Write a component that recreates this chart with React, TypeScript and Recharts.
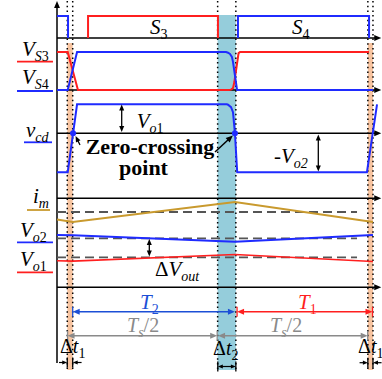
import React from 'react'
import { ComposedChart, Line, XAxis, YAxis, ReferenceLine, ReferenceArea, ReferenceDot } from 'recharts'

const RED = '#ff1f1f'
const BLUE = '#1f2bff'
const GOLD = '#c99a2e'
const GRAY = '#8a8a8a'
const TBLUE = '#1c4fd6'
const SERIF = "'Liberation Serif', 'Times New Roman', serif"

// time in units where Ts/2 = 10
const tAxis = -0.683
const dt1A = [0, 0.36]
const dt2 = [9.99, 11.2]
const dt1B = [19.97, 20.31]
const zeroCross = [0.385, 11.14]

// gate signals (1 = on)
const s3Wave = [
  { t: 1.38, v: 0 }, { t: 1.38, v: 1 }, { t: 10.01, v: 1 }, { t: 10.01, v: 0 },
]
const s4Wave = [
  { t: -0.68, v: 1 }, { t: 0.05, v: 1 }, { t: 0.05, v: 0 }, { t: 5, v: null },
  { t: 11.34, v: 0 }, { t: 11.34, v: 1 }, { t: 20.05, v: 1 }, { t: 20.05, v: 0 },
]
// switch voltages, normalised
const vs3Wave = [
  { t: -0.68, v: 1 }, { t: 0.03, v: 1 }, { t: 0.71, v: 0 }, { t: 10.75, v: 0 },
  { t: 10.88, v: 0.01 }, { t: 11.01, v: 0.05 }, { t: 11.1, v: 0.21 }, { t: 11.38, v: 0.97 },
  { t: 11.48, v: 1 }, { t: 20.05, v: 1 },
]
const vs4Wave = [
  { t: -0.68, v: 0 }, { t: 0.03, v: 0 }, { t: 0.65, v: 1 }, { t: 10.55, v: 1 },
  { t: 10.68, v: 0.98 }, { t: 10.81, v: 0.95 }, { t: 10.94, v: 0.87 }, { t: 11.01, v: 0.74 },
  { t: 11.28, v: 0 }, { t: 20.31, v: 0 },
]
// bridge voltage in units of Vo1
const vcdWave = [
  { t: -0.68, v: -1.34 }, { t: 0.03, v: -1.34 }, { t: 0.65, v: 1 }, { t: 10.6, v: 1 },
  { t: 10.68, v: 0.985 }, { t: 10.88, v: 0.9 }, { t: 11.01, v: 0.73 }, { t: 11.14, v: 0 },
  { t: 11.25, v: -1.0 }, { t: 11.29, v: -1.34 }, { t: 19.91, v: -1.34 }, { t: 20.58, v: 1 },
]
const imWave = [
  { t: -0.68, v: -0.75 }, { t: 0.36, v: -1 }, { t: 11.14, v: 1 }, { t: 20.31, v: -1 },
]
const vo2Ripple = [
  { t: -0.68, v: 0.8 }, { t: 0.36, v: 0.75 }, { t: 11.14, v: -0.85 }, { t: 20.31, v: 0.8 },
]
const vo1Ripple = [
  { t: -0.68, v: -0.85 }, { t: 0.36, v: -0.95 }, { t: 11.14, v: 0.7 }, { t: 20.31, v: -1.05 },
]

// row layout (y is measured downward)
const lane = (base: number, gain: number) => (d: { v: number | null }) =>
  d.v == null ? null : base - gain * d.v
const rows = { sw: 38, vs: 90, vcd: 133.3, im: 198.3, out: 287.3 }

type ArrowOpt = { color?: string; w?: number; head?: number; a?: boolean; b?: boolean; ta?: boolean; tb?: boolean; tick?: number }
const arrowShape = (o: ArrowOpt) => (p: any) => {
  const { x1, y1, x2, y2 } = p
  const c = o.color ?? '#000'
  const h = o.head ?? 7
  const hw = h * 0.42
  const len = Math.hypot(x2 - x1, y2 - y1) || 1
  const ux = (x2 - x1) / len
  const uy = (y2 - y1) / len
  const tri = (x: number, y: number, dx: number, dy: number) =>
    `${x},${y} ${x - dx * h - dy * hw},${y - dy * h + dx * hw} ${x - dx * h + dy * hw},${y - dy * h - dx * hw}`
  const tk = o.tick ?? 5
  const sx = o.a ? x1 + ux * h * 0.8 : x1
  const sy = o.a ? y1 + uy * h * 0.8 : y1
  const ex = o.b ? x2 - ux * h * 0.8 : x2
  const ey = o.b ? y2 - uy * h * 0.8 : y2
  return (
    <g>
      <line x1={sx} y1={sy} x2={ex} y2={ey} stroke={c} strokeWidth={o.w ?? 1.5} />
      {o.a && <polygon points={tri(x1, y1, -ux, -uy)} fill={c} />}
      {o.b && <polygon points={tri(x2, y2, ux, uy)} fill={c} />}
      {o.ta && <line x1={x1 - uy * tk} y1={y1 + ux * tk} x2={x1 + uy * tk} y2={y1 - ux * tk} stroke={c} strokeWidth={1.3} />}
      {o.tb && <line x1={x2 - uy * tk} y1={y2 + ux * tk} x2={x2 + uy * tk} y2={y2 - ux * tk} stroke={c} strokeWidth={1.3} />}
    </g>
  )
}

const seg = (key: string, t1: number, y1: number, t2: number, y2: number, o: ArrowOpt) => (
  <ReferenceLine key={key} segment={[{ x: t1, y: y1 }, { x: t2, y: y2 }]} ifOverflow="visible" shape={arrowShape(o)} />
)

const plain = (key: string, t1: number, t2: number, y: number, color: string, extra: any = {}) => (
  <ReferenceLine key={key} segment={[{ x: t1, y }, { x: t2, y }]} ifOverflow="visible" stroke={color} strokeWidth={1.8} {...extra} />
)

const note = (key: string, t: number, y: number, content: React.ReactNode, style: any = {}) => (
  <ReferenceDot key={key} x={t} y={y} r={0} ifOverflow="visible"
    shape={(p: any) => (
      <text x={p.cx} y={p.cy} fontFamily={SERIF} fontSize={21} fill="#000" {...style}>{content}</text>
    )} />
)

const it = (s: string) => <tspan fontStyle="italic">{s}</tspan>
const sub = (a: string, b = '', italicB = false) => (
  <tspan fontSize={14} dy={5}>
    <tspan fontStyle="italic">{a}</tspan>
    <tspan fontStyle={italicB ? 'italic' : 'normal'}>{b}</tspan>
  </tspan>
)

export default function App() {
  const dots = [dt1A[0], dt1A[1], dt2[0], dt2[1], dt1B[0], dt1B[1]]
  return (
    <div>
      <style>{'body{margin:0}'}</style>
      <ComposedChart width={382} height={379} margin={{ top: 0, right: 0, bottom: 0, left: 0 }}>
        <XAxis type="number" dataKey="t" domain={[-4.47, 20.91]} hide allowDataOverflow />
        <YAxis type="number" domain={[0, 379]} reversed hide allowDataOverflow />

        <ReferenceArea x1={dt1A[0]} x2={dt1A[1]} y1={43} y2={370} fill="#f7c4a0" fillOpacity={1} stroke="none" ifOverflow="visible" />
        <ReferenceArea x1={dt2[0]} x2={dt2[1]} y1={15} y2={370} fill="#95cddb" fillOpacity={1} stroke="none" ifOverflow="visible" />
        <ReferenceArea x1={dt1B[0]} x2={dt1B[1]} y1={43} y2={370} fill="#f7c4a0" fillOpacity={1} stroke="none" ifOverflow="visible" />

        {dots.map((t, i) => (
          <ReferenceLine key={'dot' + i} segment={[{ x: t, y: 1 }, { x: t, y: 372 }]} ifOverflow="visible"
            stroke="#000" strokeWidth={1.5} strokeDasharray="1.5 3.2" />
        ))}

        {seg('yaxis', tAxis, 363, tAxis, 1, { b: true, w: 1.5 })}
        {Object.entries(rows).map(([k, y]) => seg('ax' + k, tAxis, y, 20.86, y, { b: true, w: 1.5 }))}

        {plain('dim', tAxis, 19.25, 212, '#555', { strokeDasharray: '9 5' })}
        {plain('dvo2', tAxis, 19.25, 238.3, '#555', { strokeDasharray: '9 5' })}
        {plain('dvo1', tAxis, 19.25, 257.3, '#555', { strokeDasharray: '9 5' })}

        {plain('uvs3', -3.34, -0.95, 61.7, RED)}
        {plain('uvs4', -3.34, -0.95, 91, BLUE)}
        {plain('uvcd', -2.875, -1.015, 142.3, BLUE)}
        {plain('uim', -2.676, -1.148, 210, GOLD)}
        {plain('uvo2', -3.34, -0.95, 242.3, BLUE)}
        {plain('uvo1', -3.34, -0.95, 272.3, RED)}

        <Line data={s3Wave} dataKey={lane(38, 22)} type="linear" stroke={RED} strokeWidth={2} dot={false} activeDot={false} isAnimationActive={false} />
        <Line data={s4Wave} dataKey={lane(38, 22)} type="linear" stroke={BLUE} strokeWidth={2} dot={false} activeDot={false} isAnimationActive={false} />
        <Line data={vs3Wave} dataKey={lane(90, 38)} type="linear" stroke={RED} strokeWidth={2} dot={false} activeDot={false} isAnimationActive={false} />
        <Line data={vs4Wave} dataKey={lane(90, 38)} type="linear" stroke={BLUE} strokeWidth={2} dot={false} activeDot={false} isAnimationActive={false} />
        <Line data={vcdWave} dataKey={lane(133.3, 29)} type="linear" stroke={BLUE} strokeWidth={2} dot={false} activeDot={false} isAnimationActive={false} />
        <Line data={imWave} dataKey={lane(212, 10)} type="linear" stroke={GOLD} strokeWidth={1.8} dot={false} activeDot={false} isAnimationActive={false} />
        <Line data={vo2Ripple} dataKey={lane(238.3, 4)} type="linear" stroke={BLUE} strokeWidth={2} dot={false} activeDot={false} isAnimationActive={false} />
        <Line data={vo1Ripple} dataKey={lane(257.3, 4)} type="linear" stroke={RED} strokeWidth={1.6} dot={false} activeDot={false} isAnimationActive={false} />

        {zeroCross.map((t, i) => (
          <ReferenceDot key={'zc' + i} x={t} y={rows.vcd} r={3} fill={BLUE} stroke="none" ifOverflow="visible" />
        ))}

        {seg('aVo1', 3.616, 104.5, 3.616, 132, { a: true, b: true, head: 6, w: 1.3 })}
        {seg('aVo2', 16.678, 134.5, 16.678, 171.5, { a: true, b: true, head: 6, w: 1.3 })}
        {seg('aDv', 5.45, 239, 5.45, 256.5, { a: true, b: true, head: 6, w: 1.3 })}
        {seg('aZc1', 9.815, 152, 11.0, 135.5, { b: true, head: 7, w: 1.5 })}
        {seg('aZc0', 0.845, 145, 0.55, 136, { b: true, head: 6, w: 1.3 })}

        {seg('aT2', 0.36, 311.7, 11.14, 311.7, { color: TBLUE, a: true, b: true, ta: true, head: 7, w: 1.5 })}
        {seg('aT1', 11.28, 311.7, 20.28, 311.7, { color: RED, a: true, b: true, ta: true, tb: true, head: 7, w: 1.5 })}
        {seg('aTs1', 0.02, 335.7, 9.96, 335.7, { color: GRAY, a: true, b: true, ta: true, tb: true, head: 7, w: 1.5 })}
        {seg('aTs2', 10.02, 335.7, 19.96, 335.7, { color: GRAY, a: true, b: true, tb: true, head: 7, w: 1.5 })}

        {seg('d1a', -0.55, 362.5, 0, 362.5, { b: true, tb: true, head: 5, w: 1.2 })}
        {seg('d1b', 0.95, 362.5, 0.36, 362.5, { b: true, tb: true, head: 5, w: 1.2 })}
        {seg('d2', 10, 366.5, 11.2, 366.5, { a: true, b: true, ta: true, tb: true, head: 5, w: 1.2 })}
        {seg('d3a', 19.42, 362.7, 19.97, 362.7, { b: true, tb: true, head: 5, w: 1.2 })}
        {seg('d3b', 20.88, 362.7, 20.31, 362.7, { b: true, tb: true, head: 5, w: 1.2 })}

        {note('S3', 5.496, 34, <>{it('S')}{sub('', '3')}</>)}
        {note('S4', 14.93, 34, <>{it('S')}{sub('', '4')}</>)}
        {note('VS3', -3.008, 56, <>{it('V')}{sub('S', '3')}</>)}
        {note('VS4', -3.008, 84, <>{it('V')}{sub('S', '4')}</>)}
        {note('vcd', -2.743, 137, <>{it('v')}{sub('cd')}</>)}
        {note('im', -2.277, 203, <>{it('i')}{sub('m')}</>)}
        {note('Vo2', -3.141, 237, <>{it('V')}{sub('o', '2')}</>)}
        {note('Vo1', -3.141, 266, <>{it('V')}{sub('o', '1')}</>)}
        {note('Vo1n', 4.612, 128, <>{it('V')}{sub('o', '1')}</>)}
        {note('Vo2n', 13.735, 163, <>-{it('V')}{sub('o', '2', true)}</>)}
        {note('zc', 5.496, 154, 'Zero-crossing', { fontWeight: 'bold', fontSize: 22, textAnchor: 'middle' })}
        {note('pt', 5.064, 175, 'point', { fontWeight: 'bold', fontSize: 22, textAnchor: 'middle' })}
        {note('dv', 5.828, 276, <>Δ{it('V')}{sub('out')}</>)}
        {note('T2', 4.832, 309, <>{it('T')}{sub('', '2')}</>, { fill: TBLUE })}
        {note('T1', 15.33, 309, <>{it('T')}{sub('', '1')}</>, { fill: RED })}
        {note('Ts1', 3.968, 332, <>{it('T')}<tspan fontSize={14} fontStyle="italic" dy={5}>s</tspan><tspan dy={-5}>/2</tspan></>, { fill: GRAY, fontSize: 20 })}
        {note('Ts2', 13.469, 332, <>{it('T')}<tspan fontSize={14} fontStyle="italic" dy={5}>s</tspan><tspan dy={-5}>/2</tspan></>, { fill: GRAY, fontSize: 20 })}
        {note('dt1a', -0.484, 353, <>Δ{it('t')}{sub('', '1')}</>, { fontSize: 20 })}
        {note('dt2', 9.682, 355, <>Δ{it('t')}{sub('', '2')}</>, { fontSize: 20 })}
        {note('dt1b', 19.316, 353, <>Δ{it('t')}{sub('', '1')}</>, { fontSize: 20 })}
      </ComposedChart>
    </div>
  )
}
